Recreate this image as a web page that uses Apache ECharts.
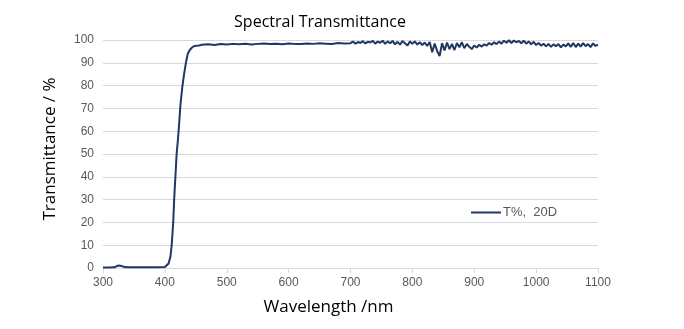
<!DOCTYPE html>
<html><head><meta charset="utf-8">
<script src="https://cdn.jsdelivr.net/npm/echarts@6/dist/echarts.min.js"></script>
<style>html,body{margin:0;padding:0;background:#fff}#c{width:684px;height:329px}</style>
</head><body><div id="c"></div>
<script>
var titleText = "Spectral Transmittance";
var xName = "Wavelength /nm";
var yName = "Transmittance / %";
var seriesName = "T%,  20D";
var wavelength = [300,310,318,321,325,330,335,340,350,360,370,380,390,400,403,406,409,411,413.5,415,417,419,421,423,425,428,431,434,437,440,444,448,
455,460,470,480,490,500,510,520,530,540,550,560,570,580,590,600,610,620,630,640,650,660,670,680,690,
700,704,708,712,716,720,724,728,732,736,740,744,748,752,756,760,764,768,772,776,780,784,788,792,796,
800,804,808,812,816,820,824,828,832,836,840,844,848,852,856,860,864,868,872,876,880,884,888,892,896,
900,904,908,912,916,920,924,928,932,936,940,944,948,952,956,960,964,968,972,976,980,984,988,992,996,
1000,1004,1008,1012,1016,1020,1024,1028,1032,1036,1040,1044,1048,1052,1056,1060,1064,1068,1072,1076,1080,1084,1088,1092,1096,1100];
var transmittance = [0.2,0.2,0.3,1.0,1.1,0.9,0.4,0.3,0.3,0.3,0.3,0.3,0.3,0.4,0.5,2,5,10,20,30,40,50,56,63,71,79,85,90,94,95.5,96.8,97.4,
97.6,97.9,98.1,97.8,98.2,98.0,98.3,98.1,98.4,98.0,98.3,98.5,98.2,98.4,98.1,98.5,98.3,98.2,98.5,98.3,98.6,98.4,98.2,98.7,98.5,
98.6,99.3,98.4,99.1,98.7,99.5,98.5,99.2,98.9,99.6,98.4,99.3,98.8,99.7,98.3,99.4,98.6,99.6,98.1,99.2,98.0,99.5,98.6,97.6,99.3,
98.4,99.4,98.0,99.0,97.8,98.9,97.4,99.1,94.6,98.4,95.2,93.0,98.6,95.4,98.9,96.0,98.3,95.6,98.7,96.8,99.0,96.4,98.3,97.0,96.0,
97.6,96.7,97.9,97.1,98.1,97.5,98.7,97.9,99.0,98.2,99.3,98.4,99.7,98.8,99.9,98.7,99.8,99.0,99.6,98.6,99.7,98.4,99.4,98.1,99.2,
97.8,98.7,97.5,98.4,97.2,98.3,97.0,98.1,97.3,98.2,96.8,98.0,97.2,98.5,97.0,98.7,96.9,98.4,97.1,98.6,97.3,98.2,96.9,98.5,97.4,98.0];
var xMin = 300, xMax = 1100, xStep = 100;
var yMin = 0, yMax = 100, yStep = 10;

var data = wavelength.map(function(w,i){return [w, transmittance[i]];});
var chart = echarts.init(document.getElementById('c'));
chart.setOption({
  animation:false,
  title:{text:titleText,left:315,top:9,textAlign:'center',textStyle:{fontFamily:'Open Sans',fontWeight:'normal',fontSize:16,color:'#000'}},
  legend:{left:466,top:201,itemWidth:30,itemHeight:2,itemGap:2,icon:'rect',
    textStyle:{fontFamily:'Liberation Sans',fontSize:13,color:'#595959',padding:[0,0,0,-3]},
    data:[{name:seriesName,icon:'rect'}]},
  grid:{left:103,right:86,top:40,bottom:61},
  xAxis:{type:'value',min:xMin,max:xMax,interval:xStep,
    name:xName,nameLocation:'middle',nameGap:31,
    nameTextStyle:{fontFamily:'Open Sans',fontSize:17,color:'#000',padding:[0,44,0,0]},
    axisLine:{show:true,lineStyle:{color:'#d9d9d9',width:1}},
    axisTick:{show:true,length:5,lineStyle:{color:'#d9d9d9'}},
    axisLabel:{color:'#595959',fontFamily:'Liberation Sans',fontSize:12,margin:9,formatter:function(v){return String(v);}},
    splitLine:{show:false}},
  yAxis:{type:'value',min:yMin,max:yMax,interval:yStep,
    name:yName,nameLocation:'middle',nameGap:44,nameRotate:90,
    nameTextStyle:{fontFamily:'Open Sans',fontSize:17,color:'#000',padding:[0,0,0,10]},
    axisLine:{show:false},axisTick:{show:false},
    axisLabel:{color:'#595959',fontFamily:'Liberation Sans',fontSize:12,margin:9},
    splitLine:{lineStyle:{color:'#d9d9d9',width:1}}},
  series:[{name:seriesName,type:'line',data:data,showSymbol:false,symbol:'none',
    lineStyle:{color:'#203864',width:2},itemStyle:{color:'#203864'}}]
});
</script></body></html>
